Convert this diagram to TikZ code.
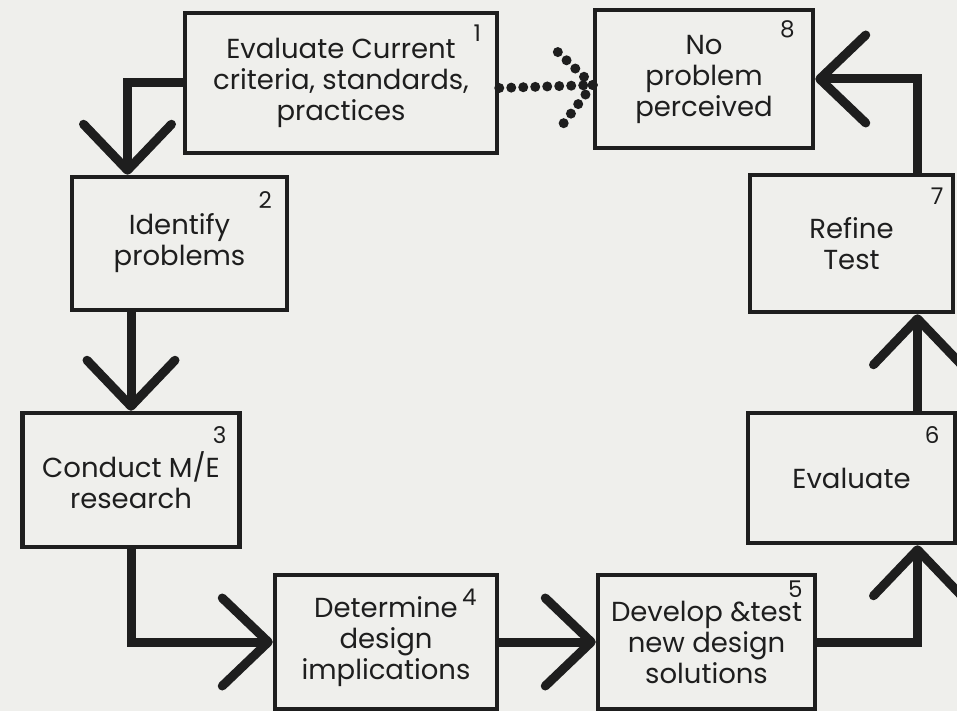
\documentclass[tikz,border=0pt]{standalone}
\usepackage{fontspec}
\setmainfont{Poppins}
\usetikzlibrary{positioning, arrows.meta}
\definecolor{paper}{HTML}{EFEFEC}
\definecolor{ink}{HTML}{1E1E1E}

\begin{document}
\begin{tikzpicture}[
    x=1pt, y=-1pt,
    >={Straight Barb[length=46pt, width=88pt, line width=9pt, round]},
    box/.style={draw=ink, line width=4.5pt, fill=paper, inner sep=0pt,
                font=\fontsize{27.5}{31}\selectfont, align=center, text=ink},
    num/.style={font=\fontsize{23}{23}\selectfont, text=ink, anchor=center},
    flow/.style={draw=ink, line width=9pt},
    dots/.style={draw=ink, line width=10pt, line cap=round, dash pattern=on 0pt off 12pt},
]

% page
\fill[paper] (0,0) rectangle (957,711);
\useasboundingbox (0,0) rectangle (957,711);

% Left column and top row
\node[box, minimum width=312pt, minimum height=140pt,
      label={[num, xshift=-22pt, yshift=-22pt]north east:1}]
    (eval) at (341,83) {Evaluate Current\\criteria, standards,\\practices};
\node[box, minimum width=218pt, minimum height=138pt,
      label={[num, xshift=-28pt, yshift=-22pt]north east:8}]
    (noprob) at (704,79) {No\\problem\\perceived};
\node[box, minimum width=215pt, minimum height=133pt,
      label={[num, xshift=-24pt, yshift=-25pt]north east:2}]
    (ident) at (179.5,243.5) {Identify\\problems};
\node[box, minimum width=217pt, minimum height=134pt,
      label={[num, xshift=-22pt, yshift=-24pt]north east:3}]
    (research) at (131,480) {Conduct M/E\\research};

% Bottom row
\node[box, minimum width=222pt, minimum height=134pt,
      label={[num, xshift=-30pt, yshift=-25pt]north east:4}]
    (implic) at (386,642) {Determine\\design\\implications};
\node[box, minimum width=217pt, minimum height=134pt,
      label={[num, xshift=-22pt, yshift=-16pt]north east:5}]
    (develop) at (706.5,642) {Develop \&test\\new design\\solutions};

% Right column
\node[box, minimum width=207pt, minimum height=130pt,
      label={[num, xshift=-25pt, yshift=-24pt]north east:6}]
    (evaltwo) at (851.5,478) {Evaluate};
\node[box, minimum width=203pt, minimum height=137pt,
      label={[num, xshift=-18pt, yshift=-23pt]north east:7}]
    (refine) at (851.5,243.5) {Refine\\Test};

% Main loop
\draw[flow, ->] (eval.west) -| ([xshift=-52pt]ident.north);
\draw[flow, ->] (research.north |- ident.south) -- (research.north);
\draw[flow, ->] (research.south) |- (implic.west);
\draw[flow, ->] (implic.east) -- (develop.west);
\draw[flow, ->] (develop.east) -| ([xshift=66pt]evaltwo.south);
\draw[flow, ->] ([xshift=66pt]evaltwo.north) -- ([xshift=66pt]refine.south);
\draw[flow, ->] ([xshift=66pt]refine.north) |- (noprob.east);

% Dotted short cut
\coordinate (tip) at ([yshift=-6pt]noprob.west);
\draw[dots] ([yshift=-5pt]eval.east) -- (tip);
\draw[dots] (tip) -- ++(-35,-33);
\draw[dots] (tip) -- ++(-32,42);

\end{tikzpicture}
\end{document}
